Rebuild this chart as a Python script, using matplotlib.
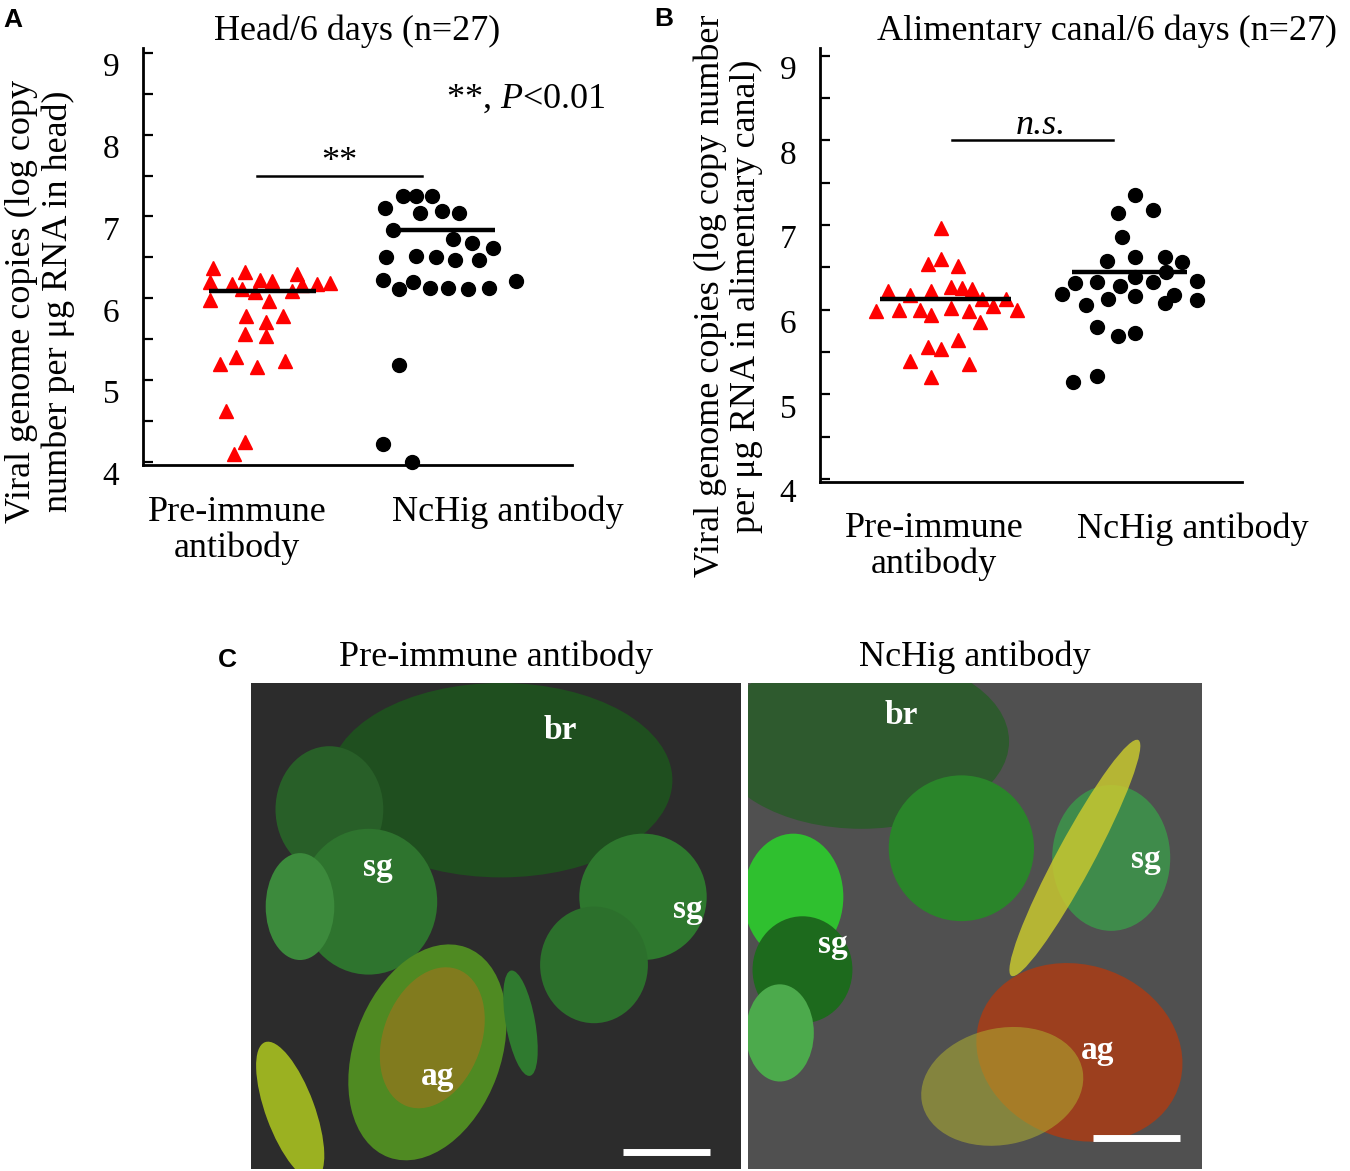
import matplotlib.pyplot as plt
from matplotlib.patches import Ellipse

plt.rcParams['font.family'] = ['Liberation Serif', 'DejaVu Serif']
plt.rcParams['mathtext.fontset'] = 'custom'
plt.rcParams['mathtext.rm'] = 'Liberation Serif'
plt.rcParams['mathtext.it'] = 'Liberation Serif:italic'

# ---- Panel A: head, log copy number (x = jittered position)
head_pre_x = [0.49, 0.71, 1.08, 0.47, 0.62, 0.82, 0.90, 1.11, 1.22, 1.31, 0.69, 1.04, 0.78, 0.47,
              0.88, 0.72, 0.98, 0.86, 0.71, 0.86, 0.54, 0.65, 0.80, 0.99, 0.58, 0.71, 0.64]
head_pre_y = [6.37, 6.32, 6.29, 6.20, 6.17, 6.22, 6.21, 6.16, 6.17, 6.19, 6.11, 6.09, 6.08, 5.98,
              5.97, 5.78, 5.78, 5.71, 5.56, 5.54, 5.20, 5.28, 5.16, 5.23, 4.62, 4.24, 4.10]
head_nchig_x = [1.82, 1.91, 2.02, 1.69, 1.94, 2.09, 2.21, 1.75, 2.17, 2.30, 2.45, 1.70, 1.91, 2.05,
                2.18, 2.35, 1.68, 1.79, 1.89, 2.01, 2.13, 2.27, 2.42, 2.61, 1.79, 1.68, 1.88]
head_nchig_y = [7.25, 7.25, 7.25, 7.10, 7.04, 7.07, 7.04, 6.83, 6.72, 6.67, 6.62, 6.51, 6.52, 6.51,
                6.47, 6.47, 6.22, 6.11, 6.20, 6.13, 6.13, 6.11, 6.13, 6.21, 5.18, 4.22, 4.00]
head_means = [6.09, 6.83]
head_mean_span = [(0.46, 1.21), (1.75, 2.46)]

# ---- Panel B: alimentary canal
gut_pre_x = [0.86, 0.77, 0.86, 0.98, 0.48, 0.64, 0.79, 0.93, 1.01, 1.08, 1.15, 1.32, 0.40, 0.56,
             0.71, 0.79, 0.93, 1.06, 1.23, 1.40, 1.14, 0.77, 0.86, 0.98, 0.64, 1.06, 0.79]
gut_pre_y = [6.96, 6.54, 6.60, 6.52, 6.22, 6.17, 6.22, 6.27, 6.25, 6.24, 6.12, 6.12, 5.98, 6.00,
             6.00, 5.94, 6.02, 5.98, 6.04, 6.00, 5.85, 5.56, 5.54, 5.64, 5.39, 5.36, 5.21]
gut_nchig_x = [2.24, 2.12, 2.37, 2.15, 2.04, 2.24, 2.45, 2.57, 1.81, 1.97, 2.13, 2.24, 2.37, 2.46,
               2.68, 1.72, 1.89, 2.05, 2.24, 2.45, 2.52, 2.68, 1.97, 2.12, 2.24, 1.80, 1.97]
gut_nchig_y = [7.35, 7.14, 7.18, 6.86, 6.58, 6.62, 6.62, 6.56, 6.31, 6.33, 6.28, 6.38, 6.33, 6.45,
               6.34, 6.19, 6.06, 6.12, 6.16, 6.08, 6.17, 6.11, 5.79, 5.69, 5.72, 5.15, 5.22]
gut_means = [6.13, 6.45]
gut_mean_span = [(0.43, 1.36), (1.79, 2.61)]

groups_a = ['Pre-immune\nantibody', 'NcHig antibody']
group_pos_a = [0.66, 2.55]
group_pos_b = [0.81, 2.65]
y_major = [4, 5, 6, 7, 8, 9]
y_minor = [4.5, 5.5, 6.5, 7.5, 8.5]

# ---- Panel C: labels on micrographs (normalised image coords)
img_titles = ['Pre-immune antibody', 'NcHig antibody']
left_labels = [('br', 0.631, 0.903), ('sg', 0.259, 0.621), ('sg', 0.892, 0.533), ('ag', 0.380, 0.191)]
right_labels = [('br', 0.337, 0.934), ('sg', 0.877, 0.636), ('sg', 0.187, 0.461), ('ag', 0.771, 0.243)]
left_bar = (0.759, 0.937, 0.035)
right_bar = (0.760, 0.952, 0.064)
# rough tissue shapes: (cx, cy, w, h, angle, colour, alpha)
left_blobs = [(0.51, 0.80, 0.70, 0.40, 0, '#1f4f1f', 1.0),
              (0.16, 0.74, 0.22, 0.26, 0, '#285f28', 1.0),
              (0.24, 0.55, 0.28, 0.30, 0, '#2e742e', 1.0),
              (0.10, 0.54, 0.14, 0.22, 0, '#3c8a3c', 1.0),
              (0.80, 0.56, 0.26, 0.26, 0, '#2e782e', 1.0),
              (0.70, 0.42, 0.22, 0.24, 0, '#2c702c', 1.0),
              (0.36, 0.24, 0.30, 0.46, -20, '#4f8a22', 1.0),
              (0.37, 0.27, 0.20, 0.30, -20, '#c06a1a', 0.45),
              (0.08, 0.12, 0.10, 0.30, 20, '#a8c020', 0.9),
              (0.55, 0.30, 0.06, 0.22, 10, '#2f7a2f', 1.0)]
right_blobs = [(0.25, 0.88, 0.65, 0.36, 0, '#2e5a2e', 1.0),
               (0.47, 0.66, 0.32, 0.30, 0, '#2a852a', 1.0),
               (0.10, 0.56, 0.22, 0.26, 0, '#2fc02f', 1.0),
               (0.12, 0.41, 0.22, 0.22, 0, '#1d6a1d', 1.0),
               (0.07, 0.28, 0.15, 0.20, 0, '#4caa4c', 1.0),
               (0.80, 0.64, 0.26, 0.30, 0, '#3aa04a', 0.75),
               (0.73, 0.24, 0.46, 0.36, -15, '#9c3f1e', 1.0),
               (0.56, 0.17, 0.36, 0.24, 10, '#b0b030', 0.55),
               (0.72, 0.64, 0.08, 0.56, -30, '#c8c830', 0.85)]

FS = 26

fig = plt.figure(figsize=(13.5, 11.71), dpi=100)


def scatter_panel(ax, pre_x, pre_y, nc_x, nc_y, means, spans, group_pos, ylim):
    ax.plot(pre_x, pre_y, '^', color='#ff0000', markersize=10.5, linestyle='none', clip_on=False, zorder=3)
    ax.plot(nc_x, nc_y, 'o', color='black', markersize=10, linestyle='none', clip_on=False, zorder=3)
    for m, (x0, x1) in zip(means, spans):
        ax.plot([x0, x1], [m, m], color='black', lw=3.2, solid_capstyle='butt', zorder=4)
    ax.set_xlim(0, 3)
    ax.set_ylim(*ylim)
    ax.spines['top'].set_visible(False)
    ax.spines['right'].set_visible(False)
    ax.spines['left'].set_linewidth(2)
    ax.spines['bottom'].set_linewidth(2)
    ax.set_yticks(y_major)
    ax.set_yticks(y_minor, minor=True)
    ax.tick_params(axis='y', which='both', direction='in', length=7, width=1.6, labelsize=24, pad=17)
    for lab in ax.get_yticklabels():
        lab.set_verticalalignment('top')
    ax.set_xticks(group_pos)
    ax.set_xticklabels(groups_a, fontsize=FS, linespacing=1.1)
    ax.tick_params(axis='x', length=0, pad=22)


# Panel A
axA = fig.add_axes([0.1059, 0.6029, 0.3178, 0.3561])
scatter_panel(axA, head_pre_x, head_pre_y, head_nchig_x, head_nchig_y,
              head_means, head_mean_span, group_pos_a, (3.96, 9.06))
axA.plot([0.80, 1.95], [7.5, 7.5], color='black', lw=1.8)
axA.text(1.37, 7.56, '**', ha='center', va='baseline', fontsize=FS)
axA.text(2.12, 8.43, r'**, $\mathit{P}$<0.01', ha='left', va='center', fontsize=FS, clip_on=False)
axA.set_title('Head/6 days (n=27)', fontsize=FS, pad=4)

# Panel B
axB = fig.add_axes([0.6074, 0.5888, 0.3126, 0.3702])
scatter_panel(axB, gut_pre_x, gut_pre_y, gut_nchig_x, gut_nchig_y,
              gut_means, gut_mean_span, group_pos_b, (3.97, 9.09))
axB.plot([0.94, 2.08], [8.0, 8.0], color='black', lw=1.8)
axB.text(1.57, 8.17, 'n.s.', ha='center', va='center', fontsize=FS, fontstyle='italic')
axB.set_title('Alimentary canal/6 days (n=27)', fontsize=FS, pad=4, x=0.68)

fig.text(40 / 1350, 1 - 301 / 1171, 'Viral genome copies (log copy\nnumber per μg RNA in head)',
         rotation=90, ha='center', va='center', fontsize=FS, linespacing=1.12, multialignment='center')
fig.text(728 / 1350, 1 - 296 / 1171, 'Viral genome copies (log copy number\nper μg RNA in alimentary canal)',
         rotation=90, ha='center', va='center', fontsize=FS, linespacing=1.12, multialignment='center')

for letter, px, py in [('A', 13, 20), ('B', 664, 19), ('C', 227, 660)]:
    fig.text(px / 1350, 1 - py / 1171, letter, ha='center', va='center', fontsize=19,
             fontweight='bold', family=['Liberation Sans', 'DejaVu Sans'])

# Panel C
img_boxes = [[251 / 1350, 2 / 1171, 490 / 1350, 486 / 1171],
             [748 / 1350, 2 / 1171, 454 / 1350, 486 / 1171]]
img_bg = ['#2c2c2c', '#505050']
for box, bg, blobs, labels, bar, title in zip(img_boxes, img_bg, [left_blobs, right_blobs],
                                             [left_labels, right_labels], [left_bar, right_bar], img_titles):
    ax = fig.add_axes(box)
    ax.set_facecolor(bg)
    ax.set_xlim(0, 1)
    ax.set_ylim(0, 1)
    ax.set_xticks([])
    ax.set_yticks([])
    for s in ax.spines.values():
        s.set_visible(False)
    for cx, cy, w, h, ang, col, a in blobs:
        ax.add_patch(Ellipse((cx, cy), w, h, angle=ang, color=col, alpha=a, lw=0))
    for txt, x, y in labels:
        ax.text(x, y, txt, color='white', fontsize=24, fontweight='bold', ha='center', va='center')
    ax.plot([bar[0], bar[1]], [bar[2], bar[2]], color='white', lw=5, solid_capstyle='butt')
    ax.set_title(title, fontsize=FS, pad=12)

fig.savefig('out.png', dpi=100)
